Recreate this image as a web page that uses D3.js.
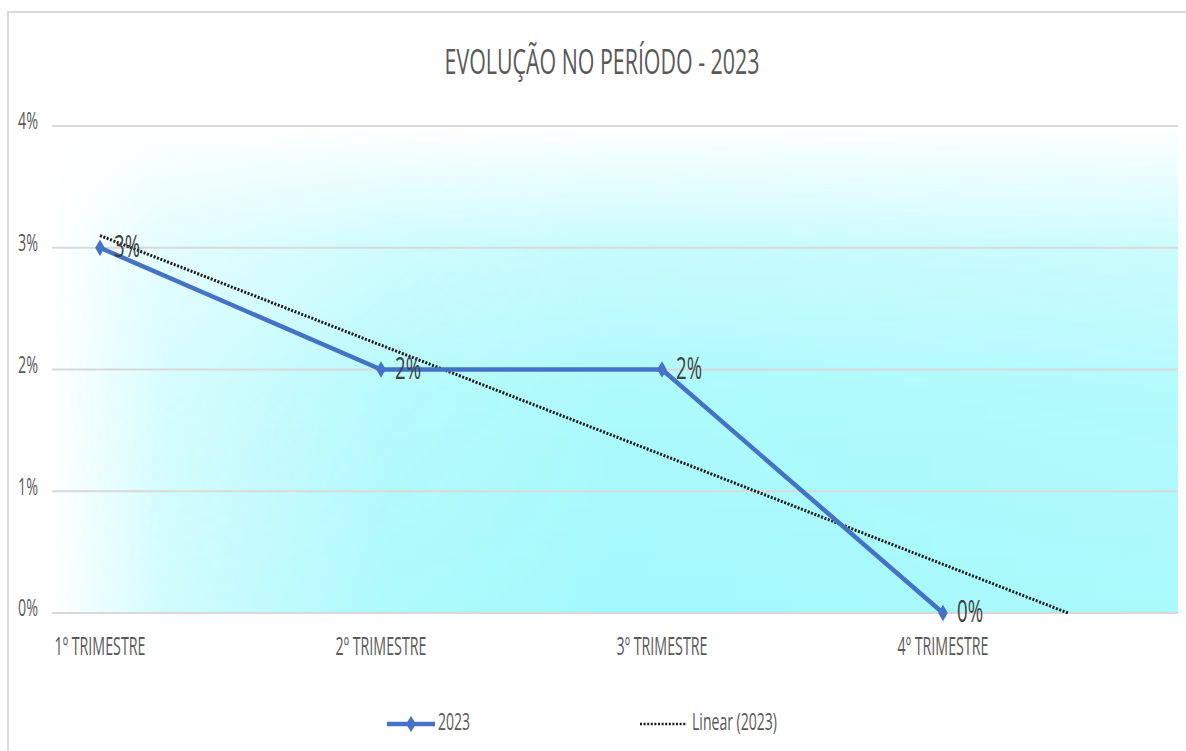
<!DOCTYPE html>
<html>
<head>
<meta charset="utf-8">
<script src="https://cdn.jsdelivr.net/npm/d3@7"></script>
<style>
  body { margin: 0; background: #fff; }
  text { font-family: "Liberation Sans Narrow", "Open Sans", sans-serif; }
</style>
</head>
<body>
<script>
const categories = ['1º TRIMESTRE', '2º TRIMESTRE', '3º TRIMESTRE', '4º TRIMESTRE'];
const values2023 = [3, 2, 2, 0];   // percent
const yTicks = [0, 1, 2, 3, 4];
const seriesName = '2023';
const trendName = 'Linear (2023)';
const title = 'EVOLUÇÃO NO PERÍODO - 2023';

const width = 1186;
const height = 751;
const plot = {left: 52, right: 1178, top: 126, bottom: 613};

const svg = d3.select('body').append('svg')
    .attr('width', width)
    .attr('height', height);

const defs = svg.append('defs');

// horizontal fade (left edge white)
const gh = defs.append('linearGradient').attr('id', 'gh')
    .attr('x1', 0).attr('x2', 1).attr('y1', 0).attr('y2', 0);
[[0, 0], [0.1, 0.5], [0.3, 0.88], [0.5, 1], [1, 0.92]].forEach(s => {
    gh.append('stop').attr('offset', s[0]).attr('stop-color', '#fff').attr('stop-opacity', s[1]);
});
// vertical fade (top white)
const gv = defs.append('linearGradient').attr('id', 'gv')
    .attr('x1', 0).attr('x2', 0).attr('y1', 0).attr('y2', 1);
[[0, 0], [0.25, 0.6], [0.55, 0.9], [1, 1]].forEach(s => {
    gv.append('stop').attr('offset', s[0]).attr('stop-color', '#fff').attr('stop-opacity', s[1]);
});
defs.append('mask').attr('id', 'mh').attr('maskUnits', 'userSpaceOnUse')
    .append('rect').attr('x', plot.left).attr('y', plot.top)
    .attr('width', plot.right - plot.left).attr('height', plot.bottom - plot.top)
    .attr('fill', 'url(#gh)');
defs.append('mask').attr('id', 'mv').attr('maskUnits', 'userSpaceOnUse')
    .append('rect').attr('x', plot.left).attr('y', plot.top)
    .attr('width', plot.right - plot.left).attr('height', plot.bottom - plot.top)
    .attr('fill', 'url(#gv)');

// chart border
svg.append('path')
    .attr('d', `M8,${height} V12 H${width}`)
    .attr('fill', 'none')
    .attr('stroke', '#d9d9d9')
    .attr('stroke-width', 2);

// plot area gradient
svg.append('g').attr('mask', 'url(#mh)')
    .append('rect')
    .attr('x', plot.left).attr('y', plot.top)
    .attr('width', plot.right - plot.left).attr('height', plot.bottom - plot.top)
    .attr('fill', '#a3f9fc')
    .attr('mask', 'url(#mv)');

function squeeze(sel, w) {
    sel.attr('textLength', w).attr('lengthAdjust', 'spacingAndGlyphs');
}

svg.append('text')
    .text(title)
    .attr('x', 602)
    .attr('y', 74)
    .attr('text-anchor', 'middle')
    .attr('font-size', 34)
    .attr('fill', '#595959')
    .call(squeeze, 315);

const y = d3.scaleLinear().domain([0, 4]).range([plot.bottom, plot.top]);
const x = d3.scalePoint().domain(categories).range([100, 943]);
const xi = d3.scaleLinear().domain([0, categories.length - 1]).range([100, 943]);

// gridlines
svg.append('g').selectAll('line')
    .data(yTicks)
    .enter()
    .append('line')
    .attr('x1', plot.left)
    .attr('x2', plot.right)
    .attr('y1', d => y(d))
    .attr('y2', d => y(d))
    .attr('stroke', '#d9d9d9')
    .attr('stroke-width', 2);

// y labels
svg.append('g').selectAll('text')
    .data(yTicks)
    .enter()
    .append('text')
    .text(d => d + '%')
    .attr('x', 18)
    .attr('y', d => y(d) - 3)
    .attr('dominant-baseline', 'middle')
    .attr('font-size', 24)
    .attr('fill', '#595959')
    .call(squeeze, 20);

// x labels
svg.append('g').selectAll('text')
    .data(categories)
    .enter()
    .append('text')
    .text(d => d)
    .attr('x', d => x(d))
    .attr('y', 648)
    .attr('text-anchor', 'middle')
    .attr('dominant-baseline', 'middle')
    .attr('font-size', 25)
    .attr('fill', '#595959')
    .call(squeeze, 91);

// linear trendline from least squares, clipped at 0
const mx = d3.mean(values2023, (d, i) => i);
const my = d3.mean(values2023);
const slope = d3.sum(values2023, (d, i) => (i - mx) * (d - my)) / d3.sum(values2023, (d, i) => (i - mx) * (i - mx));
const icpt = my - slope * mx;
const trendPts = [[0, icpt], [-icpt / slope, 0]];

const line = d3.line()
    .x(d => xi(d[0]))
    .y(d => y(d[1]));

svg.append('path')
    .datum(trendPts)
    .attr('d', line)
    .attr('fill', 'none')
    .attr('stroke', '#1a1a1a')
    .attr('stroke-width', 3)
    .attr('stroke-dasharray', '2 1.6');

// series
svg.append('path')
    .datum(values2023.map((d, i) => [i, d]))
    .attr('d', line)
    .attr('fill', 'none')
    .attr('stroke', '#4472c4')
    .attr('stroke-width', 4.5)
    .attr('stroke-linejoin', 'round');

svg.append('g').selectAll('path')
    .data(values2023)
    .enter()
    .append('path')
    .attr('d', d3.symbol(d3.symbolDiamond, 80))
    .attr('transform', (d, i) => `translate(${xi(i)},${y(d)})`)
    .attr('fill', '#4472c4');

// data labels
svg.append('g').selectAll('text')
    .data(values2023)
    .enter()
    .append('text')
    .text(d => d + '%')
    .attr('x', (d, i) => xi(i) + 14)
    .attr('y', d => y(d) + 1)
    .attr('dominant-baseline', 'middle')
    .attr('font-size', 31)
    .attr('fill', '#404040')
    .call(squeeze, 26);

// legend
const leg = svg.append('g');
leg.append('line')
    .attr('x1', 387).attr('x2', 435).attr('y1', 724).attr('y2', 724)
    .attr('stroke', '#4472c4').attr('stroke-width', 4.5);
leg.append('path')
    .attr('d', d3.symbol(d3.symbolDiamond, 80))
    .attr('transform', 'translate(411,724)')
    .attr('fill', '#4472c4');
leg.append('text')
    .text(seriesName)
    .attr('x', 438).attr('y', 724)
    .attr('dominant-baseline', 'middle')
    .attr('font-size', 23)
    .attr('fill', '#595959')
    .call(squeeze, 32);
leg.append('line')
    .attr('x1', 640).attr('x2', 687).attr('y1', 724).attr('y2', 724)
    .attr('stroke', '#1a1a1a').attr('stroke-width', 2.4)
    .attr('stroke-dasharray', '2 1.6');
leg.append('text')
    .text(trendName)
    .attr('x', 692).attr('y', 724)
    .attr('dominant-baseline', 'middle')
    .attr('font-size', 23)
    .attr('fill', '#595959')
    .call(squeeze, 85);
</script>
</body>
</html>
